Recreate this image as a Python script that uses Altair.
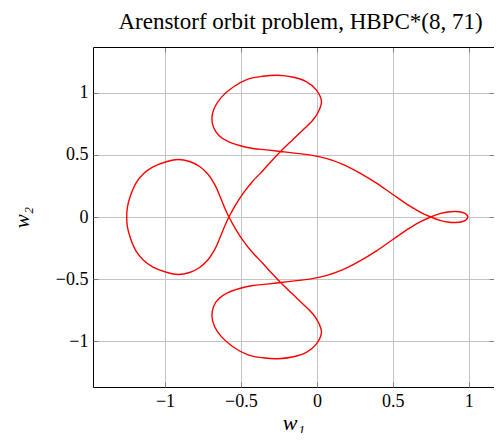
import altair as alt
import pandas as pd

# Orbit points (w1, w2), in path order
w1 = [0.985,
      0.994, 0.985, 0.960, 0.910, 0.860, 0.810, 0.750, 0.686, 0.610, 0.500,
      0.390, 0.281, 0.171, 0.061, -0.048, -0.147, -0.239, -0.333, -0.421, -0.509,
      -0.586, -0.645, -0.680, -0.691, -0.673, -0.629, -0.553, -0.454, -0.355, -0.257,
      -0.154, -0.070, -0.004, 0.030, 0.013, -0.026, -0.092, -0.162, -0.239, -0.300,
      -0.355, -0.428, -0.487, -0.535, -0.579, -0.603, -0.636, -0.673, -0.717, -0.772,
      -0.838, -0.914, -0.991, -1.079, -1.145, -1.189, -1.228, -1.248, -1.252,
      -1.248, -1.228, -1.189, -1.145, -1.079, -0.991, -0.914, -0.838, -0.772, -0.717,
      -0.673, -0.636, -0.603, -0.579, -0.535, -0.487, -0.428, -0.355, -0.300, -0.239,
      -0.162, -0.092, -0.026, 0.013, 0.030, -0.004, -0.070, -0.154, -0.257, -0.355,
      -0.454, -0.553, -0.629, -0.673, -0.691, -0.680, -0.645, -0.586, -0.509, -0.421,
      -0.333, -0.239, -0.147, -0.048, 0.061, 0.171, 0.281, 0.390, 0.500, 0.610,
      0.686, 0.750, 0.810, 0.860, 0.910, 0.960, 0.985, 0.994,
      0.985]
w2 = [-0.020,
      0.000, 0.020, 0.036, 0.044, 0.040, 0.027, 0.000, -0.036, -0.089, -0.181,
      -0.274, -0.355, -0.424, -0.472, -0.500, -0.514, -0.527, -0.540, -0.551, -0.575,
      -0.608, -0.656, -0.720, -0.798, -0.882, -0.962, -1.043, -1.108, -1.132, -1.140,
      -1.124, -1.089, -1.022, -0.930, -0.855, -0.780, -0.699, -0.618, -0.527, -0.449,
      -0.374, -0.280, -0.188, -0.097, 0.000, 0.062, 0.161, 0.263, 0.344, 0.406,
      0.446, 0.462, 0.444, 0.403, 0.344, 0.277, 0.169, 0.075, 0.000,
      -0.075, -0.169, -0.277, -0.344, -0.403, -0.444, -0.462, -0.446, -0.406, -0.344,
      -0.263, -0.161, -0.062, 0.000, 0.097, 0.188, 0.280, 0.374, 0.449, 0.527,
      0.618, 0.699, 0.780, 0.855, 0.930, 1.022, 1.089, 1.124, 1.140, 1.132,
      1.108, 1.043, 0.962, 0.882, 0.798, 0.720, 0.656, 0.608, 0.575, 0.551,
      0.540, 0.527, 0.514, 0.500, 0.472, 0.424, 0.355, 0.274, 0.181, 0.089,
      0.036, 0.000, -0.027, -0.040, -0.044, -0.036, -0.020, 0.000,
      0.020]

tick_values = [-1, -0.5, 0, 0.5, 1]
x_domain = [-1.474, 1.166]
y_domain = [-1.367, 1.367]
chart_title = "Arenstorf orbit problem, HBPC*(8, 71)"

df = pd.DataFrame({"w1": w1, "w2": w2, "t": list(range(len(w1)))})

FONT = "Liberation Serif, DejaVu Serif, serif"
MINUS = "replace(toString(datum.value), '-', '\u2212')"
xs = alt.Scale(domain=x_domain, nice=False, zero=False)
ys = alt.Scale(domain=y_domain, nice=False, zero=False)

main = alt.Chart(df).mark_line(
    color="#ff0000", strokeWidth=1.4, interpolate="catmull-rom"
).encode(
    x=alt.X("w1:Q", scale=xs, axis=alt.Axis(
        orient="bottom", values=tick_values, grid=True, gridColor="#c4c4c4",
        gridWidth=1, ticks=False, tickSize=0, domain=True, domainColor="black",
        domainWidth=1,
        labelPadding=19, labelBaseline="alphabetic", labelFont=FONT,
        labelFontSize=18, labelColor="black", labelExpr=MINUS,
        title="w\u2081", titleFont=FONT, titleFontSize=22, titleFontStyle="italic",
        titleFontWeight="normal", titleColor="black", titleY=42,
        titleBaseline="alphabetic")),
    y=alt.Y("w2:Q", scale=ys, axis=alt.Axis(
        orient="left", values=tick_values, grid=True, gridColor="#c4c4c4",
        gridWidth=1, ticks=False, tickSize=0, domain=True, domainColor="black",
        domainWidth=1,
        labelPadding=5, labelFont=FONT, labelFontSize=18, labelColor="black",
        labelExpr=MINUS,
        title="w\u2082", titleFont=FONT, titleFontSize=21, titleFontStyle="italic",
        titleFontWeight="normal", titleColor="black", titleX=-65, titleY=170,
        titleAngle=270, titleAlign="center", titleBaseline="alphabetic")),
    order=alt.Order("t:Q"),
)

def tick_layer(xo, yo):
    return alt.Chart(df).mark_line(strokeOpacity=0).encode(
        x=alt.X("w1:Q", scale=xs, axis=alt.Axis(
            orient=xo, values=tick_values, grid=False, labels=False, domain=False,
            ticks=True, tickSize=5, offset=-5, tickColor="#808080", tickWidth=1,
            title=None)),
        y=alt.Y("w2:Q", scale=ys, axis=alt.Axis(
            orient=yo, values=tick_values, grid=False, labels=False, domain=False,
            ticks=True, tickSize=5, offset=-5, tickColor="#808080", tickWidth=1,
            title=None)),
        order=alt.Order("t:Q"),
    )

# top frame line; it also carries the chart title
top_frame = alt.Chart(df).mark_line(strokeOpacity=0).encode(
    x=alt.X("w1:Q", scale=xs, axis=alt.Axis(
        orient="top", labels=False, grid=False, ticks=False, domain=True,
        domainColor="black", domainWidth=1,
        title=chart_title, titleFont=FONT, titleFontSize=23,
        titleFontWeight="normal", titleColor="black", titleX=207, titleY=-19,
        titleAlign="center", titleBaseline="alphabetic")),
    y=alt.Y("w2:Q", scale=ys, axis=None),
    order=alt.Order("t:Q"),
)

chart = alt.layer(
    main, tick_layer("top", "right"), tick_layer("bottom", "left"), top_frame
).resolve_axis(
    x="independent", y="independent"
).properties(
    width=401, height=340,
    autosize=alt.AutoSizeParams(type="none"),
    padding={"left": 85, "top": 39, "right": 0, "bottom": 46},
).configure_view(stroke=None)

chart.save("out.html", embed_options={"renderer": "svg", "actions": False})
